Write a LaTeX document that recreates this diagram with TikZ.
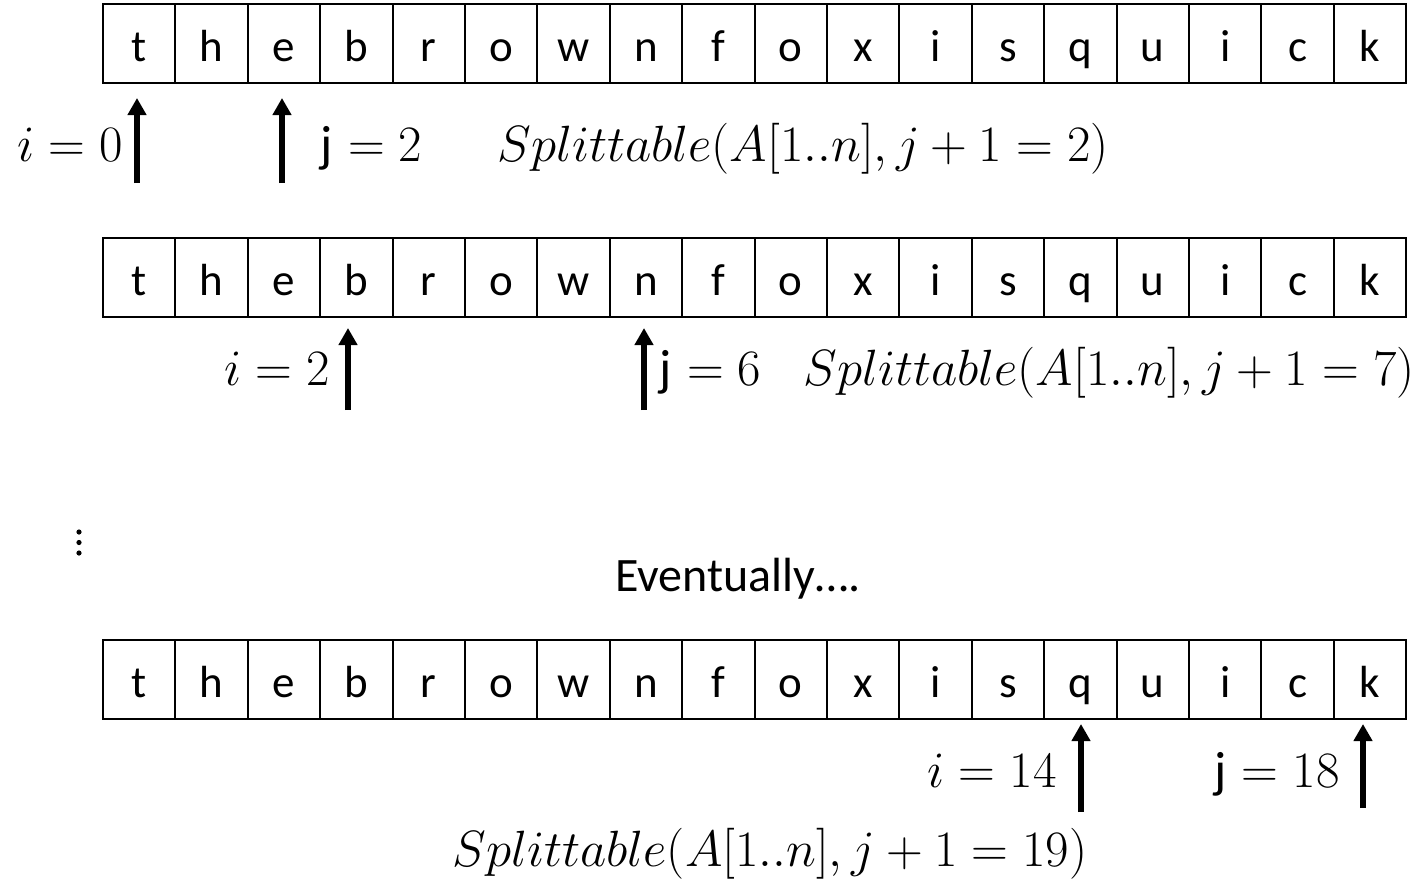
\RequirePackage{fix-cm}
\documentclass[tikz,border=0pt]{standalone}
\usepackage[no-math]{fontspec}
\newfontfamily\carl{Carlito}
\usetikzlibrary{arrows.meta}
\tikzset{
  cell/.style={draw, line width=1pt, minimum width=36.2pt, minimum height=39.5pt,
    inner sep=0pt, text height=17.5pt, text depth=0pt,
    font=\carl\fontsize{22.5}{27}\selectfont},
  ptr/.style={line width=3pt, -{Triangle[width=9pt,length=8.5pt]}},
  mtxt/.style={inner sep=0pt, font=\fontsize{25.5}{30}\selectfont},
  ttxt/.style={inner sep=0pt, font=\carl\fontsize{24}{28}\selectfont},
}
\begin{document}
\begin{tikzpicture}[x=0.5pt,y=-0.5pt]
\useasboundingbox (0,0) rectangle (1424,895);
% three arrays
\foreach \ch [count=\k] in {t,h,e,b,r,o,w,n,f,o,x,i,s,q,u,i,c,k} {
  \node[cell] (r1c\k) at ({103+72.4*(\k-0.5)},43.5) {\ch};
  \node[cell] (r2c\k) at ({103+72.4*(\k-0.5)},277.5) {\ch};
  \node[cell] (r3c\k) at ({103+72.4*(\k-0.5)},679.5) {\ch};
}
% row 1
\coordinate (p1i) at (137,183);
\coordinate (p1j) at (282,183);
\draw[ptr, shorten >=7pt] (p1i) -- (p1i |- r1c1.south);
\draw[ptr, shorten >=7pt] (p1j) -- (p1j |- r1c3.south);
\node[mtxt, anchor=base east] (l1i) at (123,161) {$i = 0$};
\node[mtxt, anchor=base west] (l1j) at (320,161) {{\carl j} $= 2$};
\node[mtxt, anchor=base west] (l1s) at (497,161) {$Splittable(A[1..n], j + 1 = 2)$};
% row 2
\coordinate (p2i) at (348,410);
\coordinate (p2j) at (644,410);
\draw[ptr, shorten >=5pt] (p2i) -- (p2i |- r2c4.south);
\draw[ptr, shorten >=5pt] (p2j) -- (p2j |- r2c8.south);
\node[mtxt, anchor=base east] (l2i) at (330,385) {$i = 2$};
\node[mtxt, anchor=base west] (l2j) at (659,385) {{\carl j} $= 6$};
\node[mtxt, anchor=base west] (l2s) at (803,385) {$Splittable(A[1..n], j + 1 = 7)$};
% dots
\fill (79,532) circle (2.6);
\fill (79,542.5) circle (2.6);
\fill (79,553) circle (2.6);
\node[ttxt, anchor=base west] (ev) at (615,591) {Eventually….};
% row 3
\coordinate (p3i) at (1081,812);
\coordinate (p3j) at (1363,808);
\draw[ptr, shorten >=2pt] (p3i) -- (p3i |- r3c14.south);
\draw[ptr, shorten >=2pt] (p3j) -- (p3j |- r3c18.south);
\node[mtxt, anchor=base east] (l3i) at (1057,787) {$i = 14$};
\node[mtxt, anchor=base east] (l3j) at (1340,787) {{\carl j} $= 18$};
\node[mtxt, anchor=base] (l3s) at (770,866) {$Splittable(A[1..n], j + 1 = 19)$};
\end{tikzpicture}
\end{document}
